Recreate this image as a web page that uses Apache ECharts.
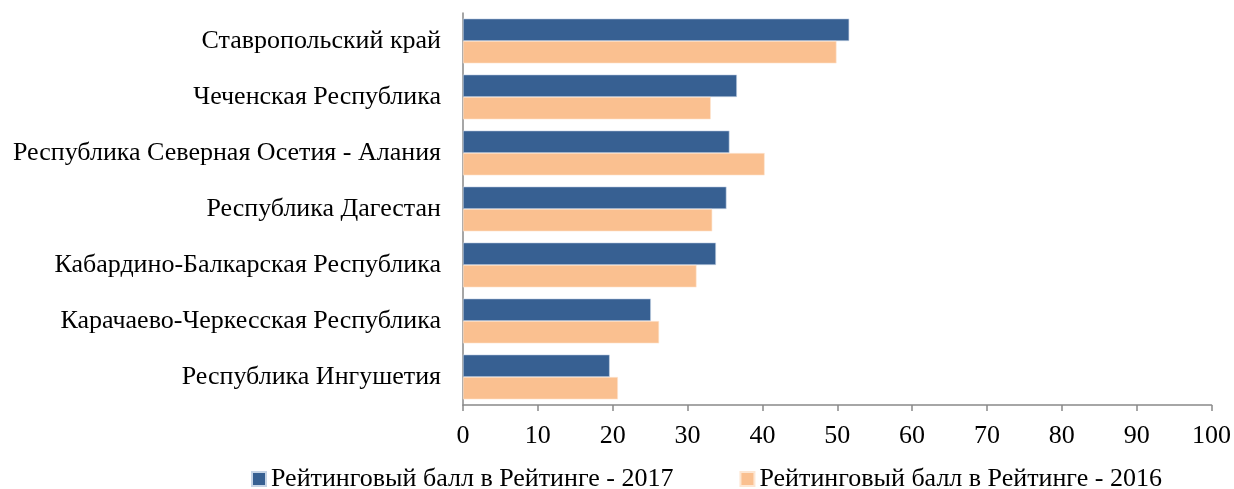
<!DOCTYPE html>
<html>
<head>
<meta charset="utf-8">
<script src="https://cdn.jsdelivr.net/npm/echarts@6/dist/echarts.min.js"></script>
<style>
  html, body { margin: 0; padding: 0; background: #fff; }
  #chart { width: 1234px; height: 489px; }
</style>
</head>
<body>
<div id="chart"></div>
<script>
var regions = [
    'Ставропольский край',
    'Чеченская Республика',
    'Республика Северная Осетия - Алания',
    'Республика Дагестан',
    'Кабардино-Балкарская Республика',
    'Карачаево-Черкесская Республика',
    'Республика Ингушетия'
];
var score2017 = [51.6, 36.6, 35.6, 35.2, 33.8, 25.1, 19.6];
var score2016 = [49.9, 33.1, 40.3, 33.3, 31.2, 26.2, 20.7];
var seriesNames = ['Рейтинговый балл в Рейтинге - 2017', 'Рейтинговый балл в Рейтинге - 2016'];

var font = '"Liberation Serif", "Times New Roman", serif';
var chart = echarts.init(document.getElementById('chart'));

var option = {
    animation: false,
    textStyle: { fontFamily: font, color: '#000' },
    grid: { left: 463, right: 22, top: 13, bottom: 84, containLabel: false },
    legend: {
        top: 461,
        left: 246,
        itemWidth: 14,
        itemHeight: 14,
        itemGap: 66,
        icon: 'rect',
        textStyle: { fontFamily: font, fontSize: 26, color: '#000' },
        data: seriesNames
    },
    xAxis: {
        type: 'value',
        min: 0,
        max: 100,
        interval: 10,
        splitLine: { show: false },
        axisLine: { show: true, lineStyle: { color: '#898989', width: 1.5 } },
        axisTick: { show: true, length: 6, lineStyle: { color: '#898989', width: 1.5 } },
        axisLabel: { fontFamily: font, fontSize: 26, color: '#000', margin: 18 }
    },
    yAxis: {
        type: 'category',
        inverse: true,
        data: regions,
        axisLine: { show: true, lineStyle: { color: '#898989', width: 1.5 } },
        axisTick: { show: false },
        axisLabel: { fontFamily: font, fontSize: 26, color: '#000', margin: 22 }
    },
    series: [
        {
            name: seriesNames[0],
            type: 'bar',
            data: score2017,
            barGap: '0%',
            barCategoryGap: '20%',
            itemStyle: { color: '#376092', borderColor: '#c6d4e6', borderWidth: 0.6 }
        },
        {
            name: seriesNames[1],
            type: 'bar',
            data: score2016,
            itemStyle: { color: '#fac090', borderColor: '#fde6d2', borderWidth: 0.6 }
        }
    ]
};
chart.setOption(option);
</script>
</body>
</html>
